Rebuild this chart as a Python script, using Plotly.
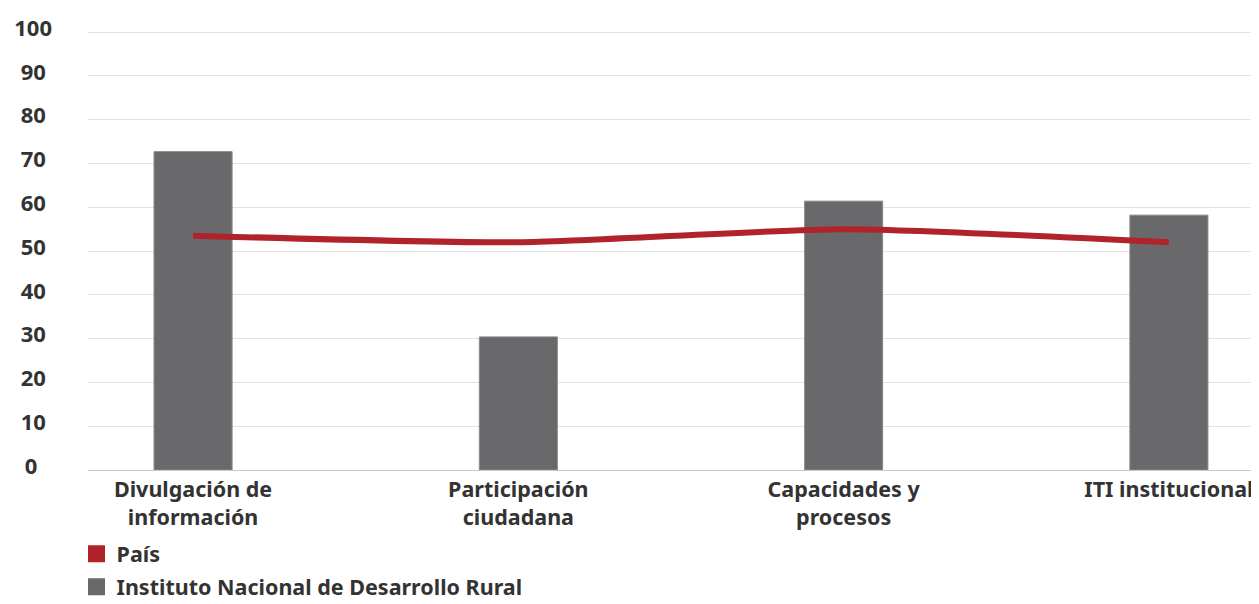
import plotly.graph_objects as go

# categorias y valores
categorias = ["Divulgación de<br>información", "Participación<br>ciudadana",
              "Capacidades y<br>procesos", "ITI institucional"]
instituto = [72.7, 30.4, 61.4, 58.2]
pais = [53.5, 52.0, 55.0, 52.0]
y_ticks = [0, 10, 20, 30, 40, 50, 60, 70, 80, 90, 100]

ROJO = "#B0232A"
GRIS = "#69696B"
TXT = "#333333"
FONT = "Noto Sans"
FS = 22

pos = list(range(len(categorias)))

fig = go.Figure()

# barras reales (sin leyenda)
fig.add_trace(go.Bar(
  x=pos, y=instituto, width=0.24, showlegend=False,
  marker=dict(color=GRIS, line=dict(color="#8a8a8c", width=1)),
  hoverinfo="x+y",
))
fig.add_trace(go.Scatter(
  x=pos, y=pais, mode="lines", showlegend=False,
  line=dict(color=ROJO, width=6, shape="spline", smoothing=0.6),
))

# entradas de leyenda (cuadros)
fig.add_trace(go.Bar(x=[None], y=[None], name="País", legendgroup="a",
                     marker=dict(color=ROJO, line=dict(color=ROJO, width=5))))
fig.add_trace(go.Bar(x=[None], y=[None], name="Instituto Nacional de Desarrollo Rural",
                     legendgroup="b",
                     marker=dict(color=GRIS, line=dict(color=GRIS, width=5))))

def tick_txt(v):
  # relleno para que las etiquetas queden centradas
  s = str(v)
  if len(s) == 1:
    return s + "\u2007\u200a"
  if len(s) == 2:
    return s + "\u2008"
  return s

# la pagina tiene 8px de margen en el body, se compensa aqui
fig.update_layout(
  width=1251, height=596,
  margin=dict(l=80, r=0, t=23, b=134, autoexpand=False),
  paper_bgcolor="white", plot_bgcolor="white",
  barmode="overlay",
  font=dict(family=FONT, size=FS, color=TXT, weight="bold"),
  xaxis=dict(
    tickmode="array", tickvals=pos, ticktext=categorias,
    range=[-0.323, 3.277], showgrid=False, zeroline=False,
    showline=True, linecolor="#c8c8c8", linewidth=1,
    ticks="", tickfont=dict(size=21.5, color=TXT), automargin=False,
  ),
  yaxis=dict(
    range=[0, 100.25], tickmode="array", tickvals=y_ticks,
    ticktext=[tick_txt(v) for v in y_ticks],
    showgrid=True, gridcolor="#e3e3e3", gridwidth=1, zeroline=False,
    ticks="", tickfont=dict(size=FS, color=TXT), ticklabelstandoff=35,
    ticklabelshift=-4, automargin=False,
  ),
  legend=dict(
    orientation="v", x=-0.0098, xanchor="left", y=-0.144, yanchor="top",
    font=dict(size=21.5, color=TXT), tracegroupgap=2, itemclick=False,
    bgcolor="rgba(0,0,0,0)",
  ),
)

fig.write_html("out.html")
